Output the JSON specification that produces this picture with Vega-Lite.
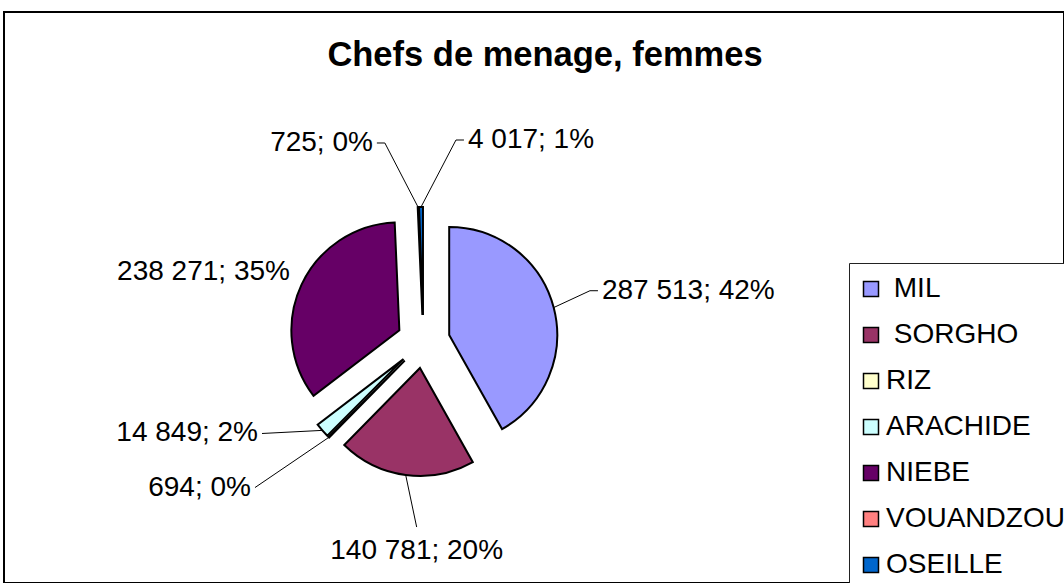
{
  "$schema": "https://vega.github.io/schema/vega-lite/v6.json",
  "width": 1060,
  "height": 571,
  "autosize": {"type": "none"},
  "padding": {"left": 4, "top": 12, "right": 0, "bottom": 0},
  "background": "white",
  "config": {
    "view": {"stroke": "black", "strokeWidth": 2},
    "font": "Liberation Sans"
  },
  "title": {
    "text": "Chefs de menage, femmes",
    "font": "Liberation Sans",
    "fontSize": 34.5,
    "fontWeight": "bold",
    "color": "black",
    "anchor": "middle",
    "frame": "group",
    "baseline": "alphabetic",
    "offset": 0,
    "dx": 11,
    "dy": 88
  },
  "data": {
    "values": [
      {"culture": "MIL", "valeur": 287513, "ordre": 1},
      {"culture": "SORGHO", "valeur": 140781, "ordre": 2},
      {"culture": "RIZ", "valeur": 694, "ordre": 3},
      {"culture": "ARACHIDE", "valeur": 14849, "ordre": 4},
      {"culture": "NIEBE", "valeur": 238271, "ordre": 5},
      {"culture": "VOUANDZOU", "valeur": 725, "ordre": 6},
      {"culture": "OSEILLE", "valeur": 4017, "ordre": 7}
    ]
  },
  "transform": [
    {"joinaggregate": [{"op": "sum", "field": "valeur", "as": "total"}]},
    {"window": [{"op": "sum", "field": "valeur", "as": "cum"}], "sort": [{"field": "ordre", "order": "ascending"}], "frame": [null, 0]},
    {"calculate": "2*PI*(datum.cum - datum.valeur/2)/datum.total", "as": "mid"},
    {"calculate": "0.2463*sin(datum.mid)", "as": "ex"},
    {"calculate": "0.2463*cos(datum.mid)", "as": "ey"},
    {"calculate": "datum.ex + sin(datum.mid)", "as": "px"},
    {"calculate": "datum.ey + cos(datum.mid)", "as": "py"},
    {"calculate": "(datum.culture=='MIL'?73.74:datum.culture=='SORGHO'?182.1:datum.culture=='RIZ'?229.1:datum.culture=='ARACHIDE'?240.36:datum.culture=='NIEBE'?298.36:datum.culture=='VOUANDZOU'?346.8:11.36)*PI/180", "as": "la"},
    {"calculate": "datum.culture=='MIL'?1.683:datum.culture=='SORGHO'?1.718:datum.culture=='RIZ'?2.064:datum.culture=='ARACHIDE'?1.72:datum.culture=='NIEBE'?1.363:datum.culture=='VOUANDZOU'?1.889:1.904", "as": "ld"},
    {"calculate": "datum.ld*sin(datum.la)", "as": "ax"},
    {"calculate": "datum.ld*cos(datum.la)", "as": "ay"},
    {"calculate": "sin(datum.la) > 0.1 ? 'left' : (sin(datum.la) < -0.1 ? 'right' : 'center')", "as": "side"},
    {"calculate": "indexof(['MIL','OSEILLE','VOUANDZOU'], datum.culture) >= 0 ? 0.074 : 0", "as": "el"},
    {"calculate": "datum.side == 'left' ? datum.ax - datum.el : datum.ax + datum.el", "as": "elx"},
    {"calculate": "replace(format(datum.valeur, ','), ',', ' ') + '; ' + format(datum.valeur/datum.total, '.0%')", "as": "lab"}
  ],
  "layer": [
    {
      "mark": {"type": "arc", "outerRadius": 108, "stroke": "black", "strokeWidth": 2},
      "encoding": {
        "theta": {"field": "valeur", "type": "quantitative", "stack": true},
        "order": {"field": "ordre", "type": "quantitative"},
        "x": {"field": "ex", "type": "quantitative", "scale": {"domain": [-3.884, 5.931], "nice": false, "zero": false}, "axis": null},
        "y": {"field": "ey", "type": "quantitative", "scale": {"domain": [-2.235, 3.052], "nice": false, "zero": false}, "axis": null},
        "color": {
          "field": "culture",
          "type": "nominal",
          "scale": {
            "domain": ["MIL", "SORGHO", "RIZ", "ARACHIDE", "NIEBE", "VOUANDZOU", "OSEILLE"],
            "range": ["#9999FF", "#993366", "#FFFFCC", "#CCFFFF", "#660066", "#FF8080", "#0066CC"]
          },
          "legend": {
            "orient": "none",
            "legendX": 845,
            "legendY": 251,
            "title": null,
            "direction": "vertical",
            "padding": 12,
            "strokeColor": "#222222",
            "fillColor": "white",
            "symbolType": "square",
            "symbolSize": 225,
            "symbolStrokeColor": "black",
            "symbolStrokeWidth": 1.5,
            "symbolOpacity": 1,
            "symbolOffset": -4,
            "labelFont": "Liberation Sans",
            "labelFontSize": 28,
            "labelColor": "black",
            "labelOffset": 1,
            "labelLimit": 0,
            "rowPadding": 18,
            "labelExpr": "indexof(['MIL','SORGHO'], datum.label) >= 0 ? '\u200b\u00a0' + datum.label : datum.label"
          }
        }
      }
    },
    {
      "transform": [{"filter": "datum.culture != 'NIEBE'"}],
      "mark": {"type": "rule", "color": "black", "strokeWidth": 1},
      "encoding": {
        "x": {"field": "px", "type": "quantitative", "scale": {"domain": [-3.884, 5.931], "nice": false, "zero": false}, "axis": null},
        "y": {"field": "py", "type": "quantitative", "scale": {"domain": [-2.235, 3.052], "nice": false, "zero": false}, "axis": null},
        "x2": {"field": "elx"},
        "y2": {"field": "ay"}
      }
    },
    {
      "transform": [{"filter": "datum.culture != 'NIEBE' && datum.el > 0"}],
      "mark": {"type": "rule", "color": "black", "strokeWidth": 1},
      "encoding": {
        "x": {"field": "elx", "type": "quantitative", "scale": {"domain": [-3.884, 5.931], "nice": false, "zero": false}, "axis": null},
        "y": {"field": "ay", "type": "quantitative", "scale": {"domain": [-2.235, 3.052], "nice": false, "zero": false}, "axis": null},
        "x2": {"field": "ax"},
        "y2": {"field": "ay"}
      }
    },
    {
      "transform": [{"filter": "datum.side == 'left'"}],
      "mark": {"type": "text", "align": "left", "baseline": "middle", "dx": 4, "font": "Liberation Sans", "fontSize": 28, "color": "black"},
      "encoding": {
        "x": {"field": "ax", "type": "quantitative", "scale": {"domain": [-3.884, 5.931], "nice": false, "zero": false}, "axis": null},
        "y": {"field": "ay", "type": "quantitative", "scale": {"domain": [-2.235, 3.052], "nice": false, "zero": false}, "axis": null},
        "text": {"field": "lab"}
      }
    },
    {
      "transform": [{"filter": "datum.side == 'right'"}],
      "mark": {"type": "text", "align": "right", "baseline": "middle", "dx": -4, "font": "Liberation Sans", "fontSize": 28, "color": "black"},
      "encoding": {
        "x": {"field": "ax", "type": "quantitative", "scale": {"domain": [-3.884, 5.931], "nice": false, "zero": false}, "axis": null},
        "y": {"field": "ay", "type": "quantitative", "scale": {"domain": [-2.235, 3.052], "nice": false, "zero": false}, "axis": null},
        "text": {"field": "lab"}
      }
    },
    {
      "transform": [{"filter": "datum.side == 'center'"}],
      "mark": {"type": "text", "align": "center", "baseline": "middle", "dy": 24, "font": "Liberation Sans", "fontSize": 28, "color": "black"},
      "encoding": {
        "x": {"field": "ax", "type": "quantitative", "scale": {"domain": [-3.884, 5.931], "nice": false, "zero": false}, "axis": null},
        "y": {"field": "ay", "type": "quantitative", "scale": {"domain": [-2.235, 3.052], "nice": false, "zero": false}, "axis": null},
        "text": {"field": "lab"}
      }
    }
  ]
}
